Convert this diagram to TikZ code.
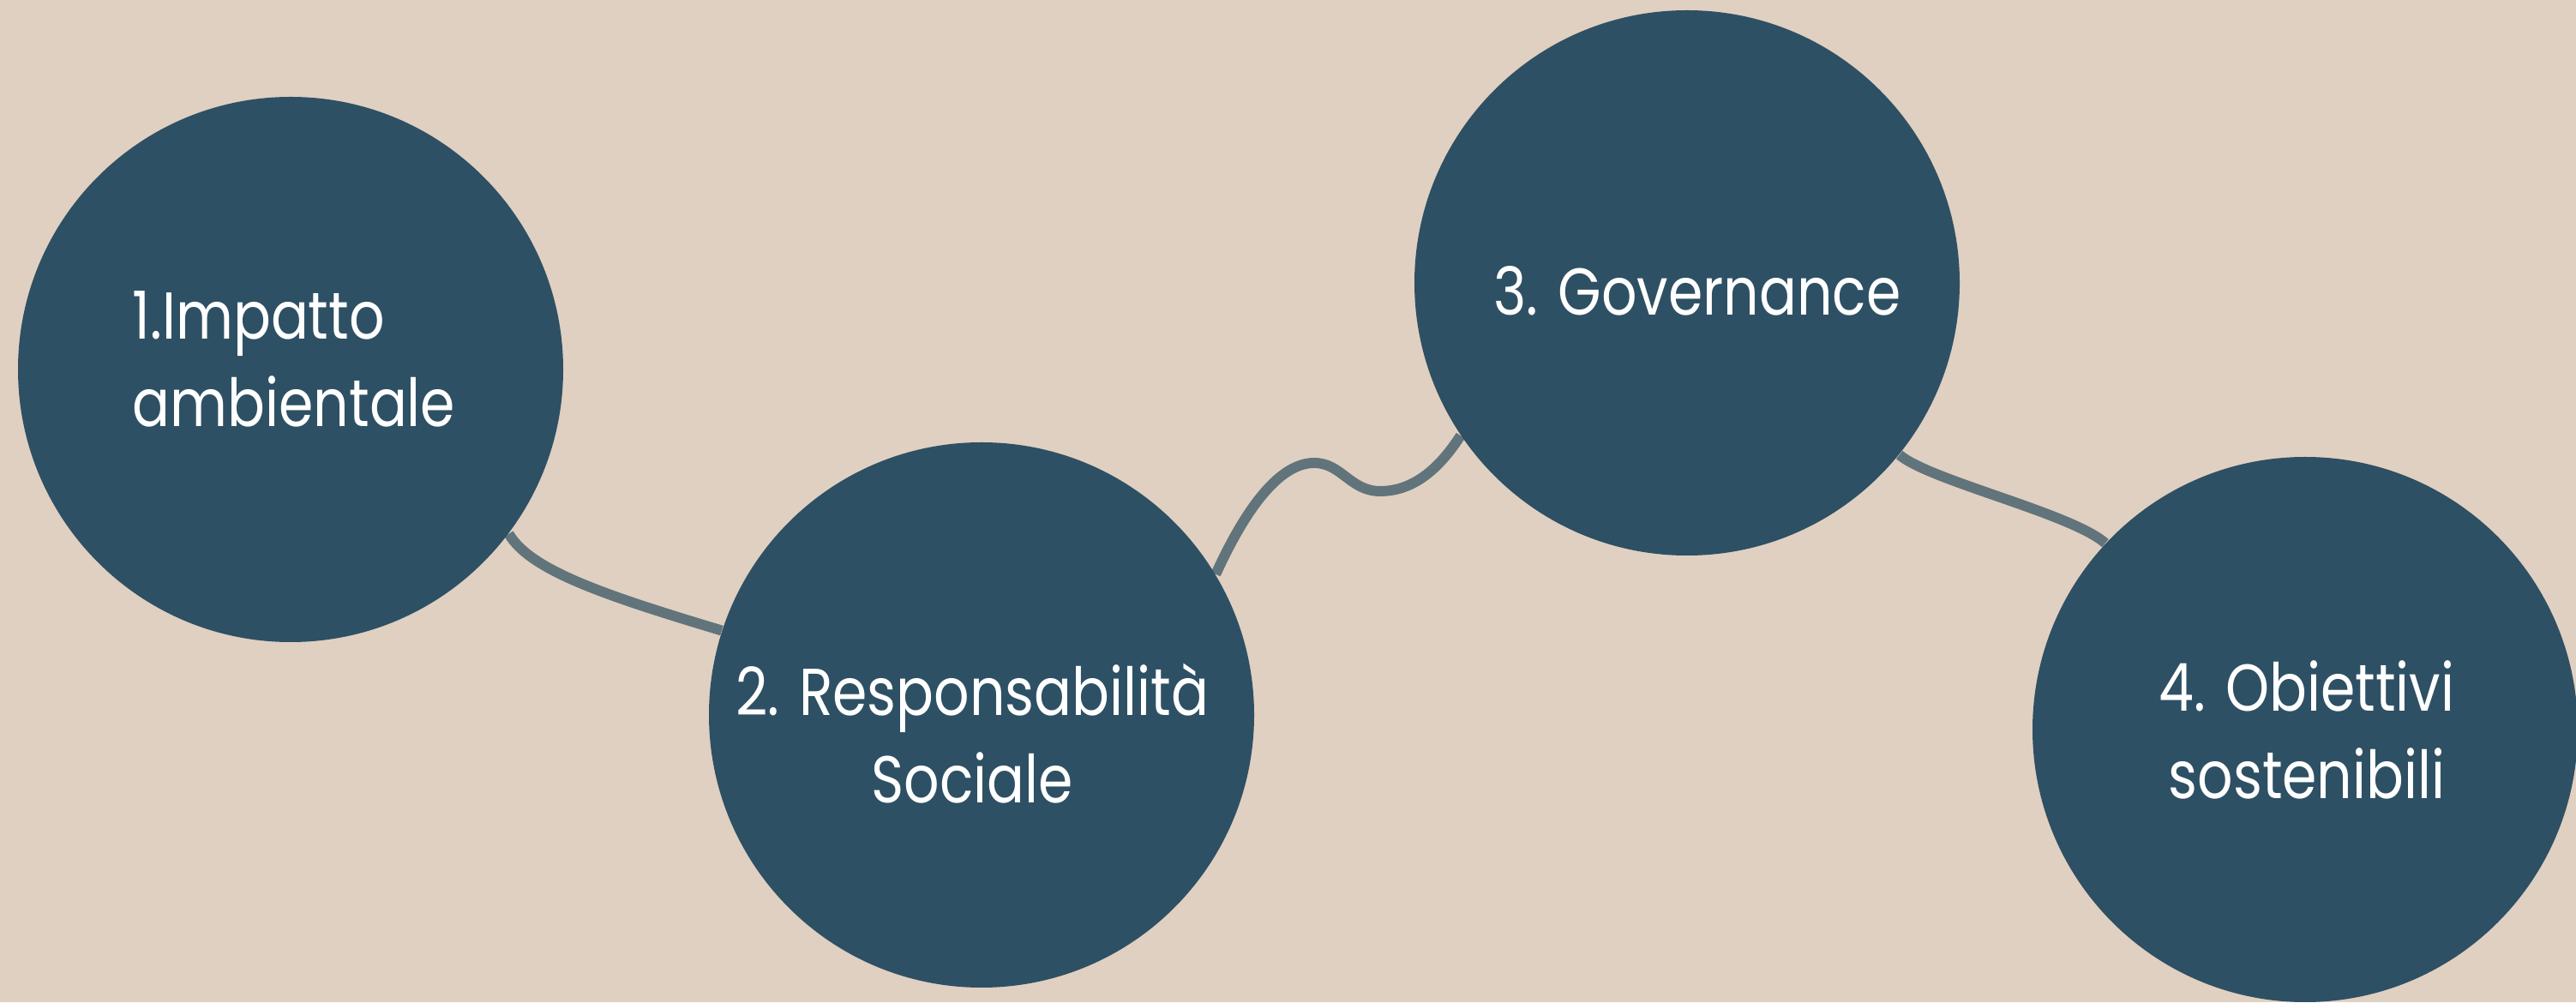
\documentclass[tikz,border=0pt]{standalone}
\usepackage{fontspec}
\setmainfont{Poppins}[FakeStretch=0.84]
\usetikzlibrary{backgrounds}

\definecolor{sand}{HTML}{E0D0C1}
\definecolor{petrol}{HTML}{2E5064}
\definecolor{slate}{HTML}{61747B}

\tikzstyle{stage}=[circle,fill=petrol,minimum size=6.36cm,inner sep=0pt]
\tikzstyle{stagetext}=[text=white,font=\fontsize{22}{29}\selectfont,align=center]
\tikzstyle{link}=[slate,line width=3.4pt]

\begin{document}
\begin{tikzpicture}
\useasboundingbox (0,0) rectangle (30.05,11.69);

\node[stage] (c1) at (3.39,7.38) {};
\node[stage] (c2) at (11.45,3.35) {};
\node[stage] (c3) at (19.68,8.39) {};
\node[stage] (c4) at (26.89,3.18) {};

\node[stagetext,align=left] (t1) at ([shift={(0.04,0.12)}]c1) {1.Impatto\\ambientale};
\node[stagetext] (t2) at ([shift={(-0.11,-0.22)}]c2) {2. Responsabilità\\Sociale};
\node[stagetext] (t3) at ([shift={(0.12,-0.09)}]c3) {3. Governance};
\node[stagetext] (t4) at ([shift={(0.02,0)}]c4) {4. Obiettivi\\sostenibili};

\begin{scope}[on background layer]
\fill[sand] (0,0) rectangle (30.05,11.69);
\draw[link] (c1.-37) .. controls +(0.25,-0.42) and +(-1.4,0.42) .. (c2.162);
\draw[link] (c2.31) .. controls (14.50,5.69) and (14.90,6.29) .. (15.33,6.29)
  .. controls (15.65,6.29) and (15.75,5.96) .. (16.10,5.96)
  .. controls (16.50,5.96) and (16.80,6.24) .. (c3.214);
\draw[link] (c3.-39) .. controls +(0.35,-0.3) and +(-0.4,0.35) .. (c4.137);
\end{scope}
\end{tikzpicture}
\end{document}
